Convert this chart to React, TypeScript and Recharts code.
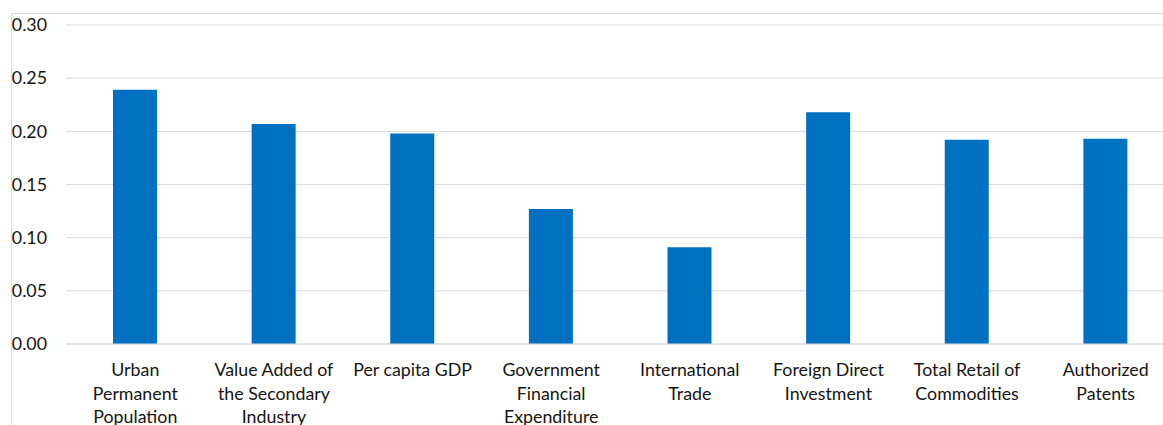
import React from "react";
import { BarChart, Bar, XAxis, YAxis, CartesianGrid } from "recharts";

const categories = [
  "Urban Permanent Population",
  "Value Added of the Secondary Industry",
  "Per capita GDP",
  "Government Financial Expenditure",
  "International Trade",
  "Foreign Direct Investment",
  "Total Retail of Commodities",
  "Authorized Patents",
];

const tickLabelLines: string[][] = [
  ["Urban", "Permanent", "Population"],
  ["Value Added of", "the Secondary", "Industry"],
  ["Per capita GDP"],
  ["Government", "Financial", "Expenditure"],
  ["International", "Trade"],
  ["Foreign Direct", "Investment"],
  ["Total Retail of", "Commodities"],
  ["Authorized", "Patents"],
];

const values = [0.239, 0.207, 0.198, 0.127, 0.091, 0.218, 0.192, 0.193];

const yTicks = [0, 0.05, 0.1, 0.15, 0.2, 0.25, 0.3];

const data = categories.map((c, i) => ({ name: c, value: values[i] }));

const FONT = "Lato, 'Open Sans', sans-serif";

const XTick = (props: any) => {
  const { x, y, index } = props;
  const lines = tickLabelLines[index] || [props.payload.value];
  return (
    <g>
      {lines.map((l, i) => (
        <text
          key={i}
          x={x}
          y={y + 32 + i * 23.5}
          textAnchor="middle"
          fontFamily={FONT}
          fontSize={17.8}
          fill="#141414"
        >
          {l}
        </text>
      ))}
    </g>
  );
};

export default function App() {
  return (
    <div
      style={{
        position: "absolute",
        left: 0,
        top: 0,
        width: 1163,
        height: 425,
        overflow: "hidden",
        background: "#fff",
      }}
    >
      <div
        style={{
          position: "absolute",
          left: 11,
          top: 13,
          width: 1300,
          height: 600,
          borderLeft: "1px solid #d9d9d9",
          borderTop: "1px solid #d9d9d9",
        }}
      />
      <div style={{ position: "absolute", left: 0, top: 0 }}>
        <BarChart
          width={1180}
          height={425}
          data={data}
          margin={{ top: 25, right: 5, bottom: 0, left: 0 }}
        >
          <CartesianGrid vertical={false} stroke="#d9d9d9" strokeWidth={1} />
          <XAxis
            dataKey="name"
            interval={0}
            height={81}
            axisLine={{ stroke: "#d9d9d9" }}
            tickLine={false}
            tickSize={0}
            tickMargin={0}
            tick={<XTick />}
          />
          <YAxis
            width={66}
            domain={[0, 0.3]}
            ticks={yTicks}
            axisLine={false}
            tickLine={false}
            tickSize={0}
            tickMargin={19}
            tickFormatter={(v: number) => v.toFixed(2)}
            tick={{ fontFamily: FONT, fontSize: 17.8, fill: "#141414" }}
          />
          <Bar dataKey="value" fill="#0070C0" barSize={44} isAnimationActive={false} />
        </BarChart>
      </div>
    </div>
  );
}
